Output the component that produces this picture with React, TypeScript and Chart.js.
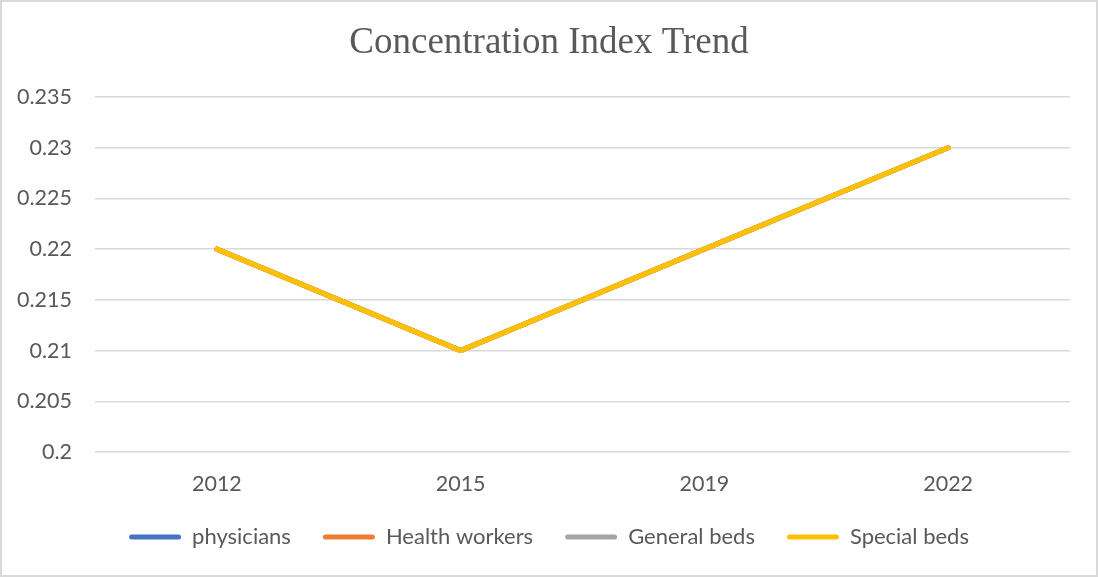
import React, { useEffect, useRef } from "react";
import { Chart, registerables } from "chart.js";

Chart.register(...registerables);

const years = ["2012", "2015", "2019", "2022"];
const physicians = [0.22, 0.21, 0.22, 0.23];
const healthWorkers = [0.22, 0.21, 0.22, 0.23];
const generalBeds = [0.22, 0.21, 0.22, 0.23];
const specialBeds = [0.22, 0.21, 0.22, 0.23];
const seriesNames = ["physicians", "Health workers", "General beds", "Special beds"];
const seriesColors = ["#4472C4", "#ED7D31", "#A5A5A5", "#FFC000"];
const yMin = 0.2;
const yMax = 0.235;
const yStep = 0.005;

const W = 1098;
const H = 577;
const SANS = "Lato, 'Open Sans', sans-serif";

export default function App() {
  const ref = useRef<HTMLCanvasElement>(null);
  useEffect(() => {
    document.body.style.margin = "0";
    const seriesData = [physicians, healthWorkers, generalBeds, specialBeds];
    const chart = new Chart(ref.current!, {
      type: "line",
      data: {
        labels: years,
        datasets: seriesData.map((d, i) => ({
          label: seriesNames[i],
          data: d,
          borderColor: seriesColors[i],
          backgroundColor: seriesColors[i],
          borderWidth: 5,
          pointRadius: 0,
          tension: 0,
          borderCapStyle: "round" as const,
          borderJoinStyle: "round" as const,
          order: seriesData.length - 1 - i,
        })),
      },
      options: {
        responsive: false,
        animation: false,
        layout: { padding: { top: 10, right: 14, bottom: 19, left: 14 } },
        plugins: {
          tooltip: { enabled: false },
          title: {
            display: true,
            text: "Concentration Index Trend",
            color: "#595959",
            font: { family: "'Liberation Serif', 'Times New Roman', serif", size: 37, weight: "normal", lineHeight: 1.2 },
            padding: { top: 11.4, bottom: 31.2 },
          },
          legend: {
            position: "bottom",
            labels: {
              color: "#595959",
              font: { family: SANS, size: 22 },
              boxWidth: 52,
              boxHeight: 5,
              padding: 32,
              useBorderRadius: true,
              borderRadius: 2.5,
              sort: (a: any, b: any) => a.datasetIndex - b.datasetIndex,
              generateLabels: (c: any) =>
                Chart.defaults.plugins.legend.labels.generateLabels(c).map((it: any) => ({
                  ...it,
                  lineWidth: 0,
                })),
            },
          },
        },
        scales: {
          x: {
            offset: true,
            afterFit: (s: any) => {
              s.height = 42;
            },
            grid: { display: false, drawTicks: false },
            border: { display: false },
            ticks: { color: "#595959", font: { family: SANS, size: 21.5, lineHeight: 1 }, padding: 21 },
          },
          y: {
            min: yMin,
            max: yMax,
            afterFit: (s: any) => {
              s.width = 81;
            },
            grid: { color: "#d9d9d9", lineWidth: 1.5, drawTicks: false },
            border: { display: false },
            ticks: {
              stepSize: yStep,
              color: "#595959",
              font: { family: SANS, size: 21.5 },
              padding: 23,
              callback: (v: any) => String(parseFloat(Number(v).toFixed(3))),
            },
          },
          yRight: {
            position: "right",
            min: yMin,
            max: yMax,
            afterFit: (s: any) => {
              s.width = 14;
            },
            grid: { display: false, drawTicks: false },
            border: { display: false },
            ticks: { display: false },
          },
        },
      },
    });
    return () => chart.destroy();
  }, []);
  return (
    <div style={{ position: "absolute", left: 0, top: 0, width: W, height: H, background: "#fff" }}>
      <canvas ref={ref} width={W} height={H} style={{ width: W, height: H, display: "block" }} />
      <div
        style={{
          position: "absolute",
          left: 0,
          top: 0,
          width: W,
          height: H,
          boxSizing: "border-box",
          border: "2px solid #d9d9d9",
          pointerEvents: "none",
        }}
      />
    </div>
  );
}
